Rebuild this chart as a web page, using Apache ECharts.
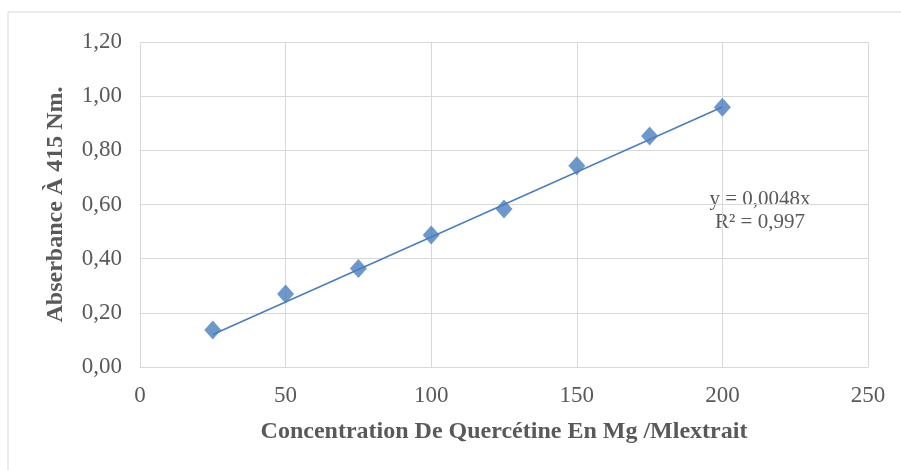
<!DOCTYPE html>
<html><head><meta charset="utf-8">
<script src="https://cdn.jsdelivr.net/npm/echarts@6/dist/echarts.min.js"></script>
<style>html,body{margin:0;padding:0;background:#fff}#c{width:901px;height:470px}</style>
</head><body><div id="c"></div>
<script>
const concentrations = [25, 50, 75, 100, 125, 150, 175, 200];
const absorbance = [0.137, 0.270, 0.364, 0.487, 0.583, 0.743, 0.853, 0.959];
const trendSlope = 0.0048;
const trendX = [25, 200];
const equationLines = ['y = 0,0048x', 'R² = 0,997'];
const xTitle = 'Concentration De Quercétine En Mg /Mlextrait';
const yTitle = 'Abserbance À 415 Nm.';

const FONT = '"Liberation Serif", "Times New Roman", serif';
const TXT = '#595959';
const GRID = '#d9d9d9';
const BLUE = '#4a7ebb';

const chart = echarts.init(document.getElementById('c'), null, {renderer: 'canvas'});
chart.setOption({
  animation: false,
  backgroundColor: '#fff',
  grid: {left: 140, right: 33, top: 42, bottom: 103},
  graphic: [
    {type: 'rect', shape: {x: 8, y: 12, width: 900, height: 470}, style: {fill: 'none', stroke: GRID, lineWidth: 1}, z: -1},
    {type: 'text', x: 760, y: 211, style: {text: equationLines.join('\n'), font: '21px ' + FONT, fill: TXT, align: 'center', verticalAlign: 'middle', lineHeight: 23}}
  ],
  xAxis: {
    type: 'value', min: 0, max: 250, interval: 50,
    name: xTitle, nameLocation: 'middle', nameGap: 53,
    nameTextStyle: {fontFamily: FONT, fontWeight: 'bold', fontSize: 24, color: TXT},
    axisLine: {show: true, lineStyle: {color: GRID, width: 1}},
    axisTick: {show: false},
    axisLabel: {fontFamily: FONT, fontSize: 23, color: TXT, margin: 17},
    splitLine: {show: true, lineStyle: {color: GRID, width: 1}}
  },
  yAxis: {
    type: 'value', min: 0, max: 1.2, interval: 0.2,
    name: yTitle, nameLocation: 'middle', nameGap: 72,
    nameTextStyle: {fontFamily: FONT, fontWeight: 'bold', fontSize: 24, color: TXT},
    axisLine: {show: false},
    axisTick: {show: false},
    axisLabel: {fontFamily: FONT, fontSize: 23, color: TXT, margin: 18,
      formatter: v => v.toFixed(2).replace('.', ',')},
    splitLine: {show: true, lineStyle: {color: GRID, width: 1}}
  },
  series: [
    {
      type: 'line', name: 'trend',
      data: trendX.map(x => [x, trendSlope * x]),
      symbol: 'none', lineStyle: {color: BLUE, width: 1.5}, z: 2
    },
    {
      type: 'scatter', name: 'data',
      data: concentrations.map((x, i) => [x, absorbance[i]]),
      symbol: 'diamond', symbolSize: [17, 19],
      itemStyle: {color: BLUE}, z: 3
    }
  ]
});
</script></body></html>
